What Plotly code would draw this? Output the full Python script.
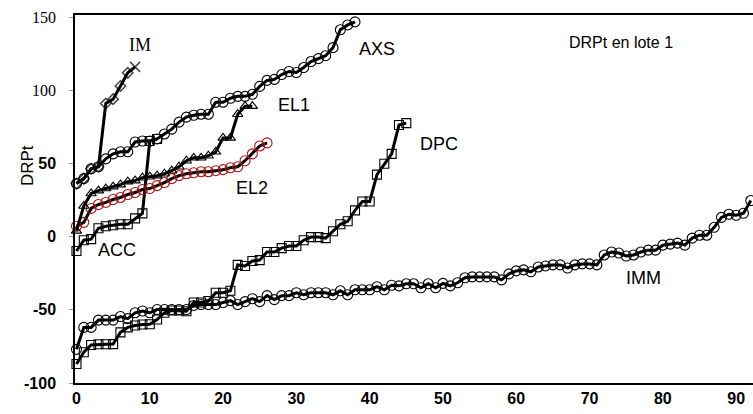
import plotly.graph_objects as go

# ---------------- data (rank-ordered values) ----------------
x_tick_vals = [0, 10, 20, 30, 40, 50, 60, 70, 80, 90]
y_tick_vals = [-100, -50, 0, 50, 100, 150]
y_tick_text = ["-100", "-50", "0", "50",
               '<span style="font-family:Liberation Serif;font-weight:normal">100</span>',
               '<span style="font-family:Liberation Serif;font-weight:normal">150</span>']

imm = [-77, -62, -62, -57, -57, -57, -54.6, -56, -52, -50.8, -52, -49.8, -49.8, -49.8,
       -49.8, -49.8, -47, -46.4, -46.4, -46.4, -45, -43.7, -46.4, -44.4, -42.4, -44.4,
       -40.3, -43, -40.3, -40.3, -38.3, -39.7, -38.3, -38.3, -38.3, -39.7, -37, -39.7,
       -36.3, -36.3, -36.3, -34.2, -36.3, -33.2, -33.6, -32.2, -32.2, -34.9, -32.2, -34.9,
       -31.9, -33.6, -31.5, -28.1, -27.5, -27.5, -27.5, -27.5, -29.5, -25.4, -23.4, -22.7,
       -24, -20.7, -20, -19.3, -19.3, -21.4, -19.3, -18.6, -18.6, -19.3, -12.5, -10.5,
       -11.2, -13.2, -12.5, -10.5, -9.2, -9.2, -5.8, -5.1, -4.4, -5.8, -1, 1, 1, 6.4,
       13.2, 15.3, 14.6, 16, 24.7]

dpc = [-87, -79, -74, -73.5, -73.5, -73.4, -65.4, -62, -60.7, -60, -59.8, -56.6, -52,
       -50.5, -50.5, -51, -45, -45, -44, -38.3, -38.3, -37, -19.3, -20, -16.6, -16,
       -10.5, -10.5, -7.8, -6.4, -6.4, -2.4, -0.3, -0.3, -1, 3.7, 8.5, 10.5, 18, 24, 24,
       42.4, 49.8, 56.6, 76.3, 77.6]

acc = [-9.8, -2.4, -1.7, 5.8, 7.1, 7.8, 8.5, 8.5, 12.5, 15.9, 65.4, 66.8]

el2 = [7.1, 9.8, 19.3, 22, 23.4, 25.4, 26.8, 28.8, 30.2, 32.2, 32.9, 34.9, 37, 39.7,
       41.7, 43, 43.7, 44.4, 44.4, 45.1, 45.8, 47.1, 47.8, 51.9, 56.6, 62, 64.1]

el1 = [4, 21, 29.5, 31.5, 32.9, 34.2, 35.6, 37.6, 38.3, 40.3, 41, 41.7, 43, 45.1, 47.8,
       51.9, 53.9, 53.9, 55.3, 58, 67.5, 67.5, 83.7, 89.2, 89.2]

axs = [36.3, 39.7, 46.4, 47.8, 53.2, 56.6, 58, 58, 64.7, 65.4, 65.4, 66.8, 70.2, 73.5,
       78.3, 81.7, 83, 83.7, 83.7, 91.9, 91.9, 94.6, 95.9, 95.9, 97.3, 102.7, 106.8,
       107.5, 110.8, 112.9, 112.2, 115.6, 119.7, 121.7, 123.7, 129.2, 141.4, 144.7, 146.8]

im = [36.3, 39.7, 46.4, 47.8, 91, 94, 103, 112, 116]

series_names = ["IM", "AXS", "EL1", "DPC", "EL2", "ACC", "IMM"]
label_x = [8.7, 41, 29.7, 49.5, 23.9, 5.5, 77.4]
label_y = [131, 128, 90, 63.5, 33, -9, -28]

# ---------------- figure ----------------
fig = go.Figure()

def add(vals, name, symbol, mcolor="black", size=9, lw=3):
    fig.add_trace(go.Scatter(
        x=list(range(len(vals))), y=vals, name=name, mode="lines+markers",
        line=dict(color="black", width=lw),
        marker=dict(symbol=symbol, size=size, color=mcolor,
                    line=dict(color=mcolor, width=1.1)),
        cliponaxis=False, showlegend=False))

add(imm, "IMM", "circle-open", size=10)
add(dpc, "DPC", "square-open", size=9)
add(acc, "ACC", "square-open", size=9)
add(el2, "EL2", "circle-open", mcolor="#b01010", size=10)
add(el1, "EL1", "triangle-up-open", size=9)
add(axs, "AXS", "circle-open", size=10)

im_symbols = ["diamond-open"] * (len(im) - 1) + ["x-thin-open"]
fig.add_trace(go.Scatter(
    x=list(range(len(im))), y=im, name="IM", mode="lines+markers",
    line=dict(color="black", width=3),
    marker=dict(symbol=im_symbols, size=[8] * (len(im) - 1) + [10], color="black",
                line=dict(color="black", width=1.6)),
    cliponaxis=False, showlegend=False))

for name, lx, ly in zip(series_names, label_x, label_y):
    fam = "Liberation Serif" if name == "IM" else "Liberation Sans"
    fig.add_annotation(x=lx, y=ly, text=name, showarrow=False,
                       font=dict(family=fam, size=18, color="black"))

fig.add_annotation(x=74.3, y=133, text="DRPt en lote 1", showarrow=False,
                   font=dict(family="Liberation Sans", size=16, color="black"))
fig.add_annotation(xref="paper", yref="paper", x=-0.086, y=0.59, text="DRPt",
                   textangle=-90, showarrow=False,
                   font=dict(family="Liberation Sans", size=17, color="black"))

fig.update_layout(
    width=753, height=414,
    margin=dict(l=75, r=0, t=15, b=31),
    paper_bgcolor="white", plot_bgcolor="white",
)
fig.update_xaxes(range=[-0.2, 92.3], tickvals=x_tick_vals, showgrid=False,
                 zeroline=False, showline=True, linecolor="black", linewidth=1.5,
                 mirror=True, ticks="", automargin=False,
                 tickfont=dict(family="Liberation Sans", size=16, color="black",
                               weight="bold"))
fig.update_yaxes(range=[-100, 151.5], tickvals=y_tick_vals, ticktext=y_tick_text,
                 showgrid=False, zeroline=False, showline=True, linecolor="black",
                 linewidth=1.5, ticks="outside", ticklen=4, tickcolor="#999999",
                 ticklabelstandoff=10, automargin=False,
                 tickfont=dict(family="Liberation Sans", size=16, color="black",
                               weight="bold"))

fig.write_html("out.html", config={"displayModeBar": False},
               post_script="document.body.style.margin='0';document.body.style.padding='0';document.body.style.overflow='hidden';")
